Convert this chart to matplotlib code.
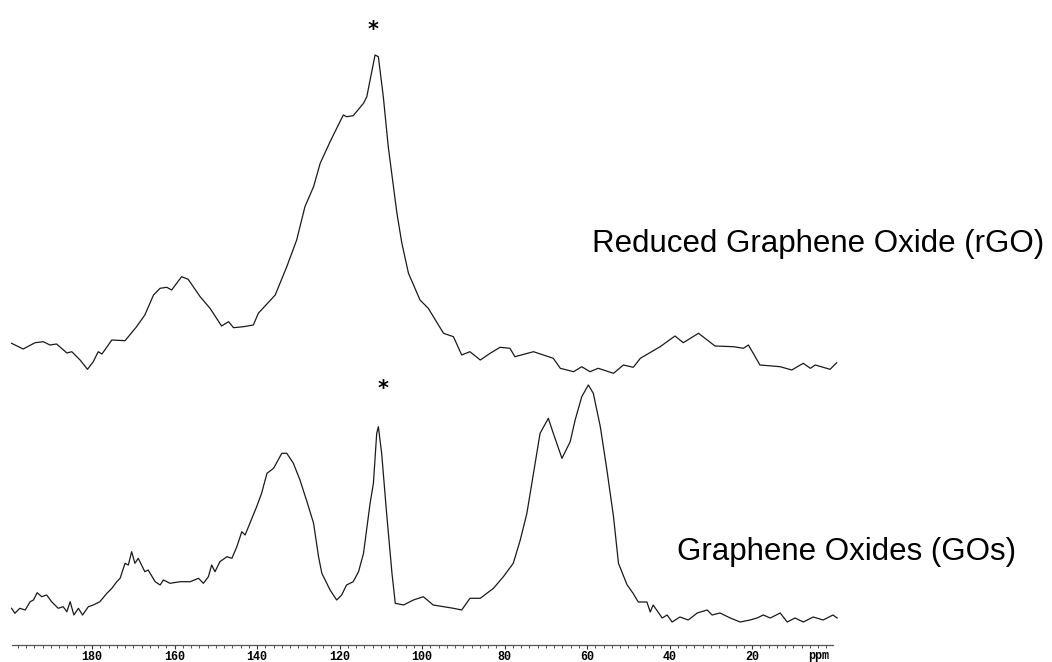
import matplotlib
matplotlib.use("Agg")
import matplotlib.pyplot as plt
import matplotlib.transforms as mtransforms
from matplotlib.ticker import MultipleLocator, FixedLocator

# chemical shift (ppm) and intensity (arbitrary units)
rgo_ppm = [199.5, 196.7, 193.8, 191.8, 190.2, 188.6, 186.1, 184.9, 182.9, 181.1,
           179.7, 178.5, 177.6, 175.2, 172.0, 169.2, 167.2, 165.1, 163.5, 161.9,
           160.7, 158.3, 156.7, 153.8, 151.4, 148.6, 146.9, 145.7, 143.3, 140.9,
           139.7, 135.6, 132.8, 130.4, 128.4, 126.3, 124.7, 122.3, 119.1, 118.3,
           116.7, 114.2, 113.4, 112.6, 111.4, 110.6, 109.4, 108.2, 106.1, 104.9,
           103.3, 100.5, 98.5, 94.8, 92.4, 90.4, 88.4, 85.9, 83.5, 81.1,
           78.7, 77.5, 73.0, 68.2, 66.5, 63.3, 61.3, 59.3, 57.3, 53.6,
           51.2, 48.8, 47.1, 42.3, 38.7, 36.7, 33.0, 29.0, 24.5, 22.1,
           20.9, 18.1, 13.2, 10.4, 7.6, 5.9, 4.7, 1.1, -0.5]
rgo_int = [16.7, 11, 17.3, 18.3, 15, 16, 7, 8.3, 0, -9.3,
           -1.7, 8.3, 6, 20, 19.3, 33.3, 45, 65, 71.7, 72.7,
           70, 83.3, 80.7, 63.3, 51.7, 34, 38.3, 32.3, 33.3, 35,
           46.7, 65, 93.3, 120, 153.3, 173.3, 196.7, 218.3, 245, 243.3,
           244.3, 256.7, 263.3, 280, 305, 303.3, 263.3, 213.3, 146.7, 116.7,
           86.7, 60, 51.7, 26.7, 23.3, 5, 8.3, 0, 6.7, 12.7,
           11.7, 3.3, 8.3, 1.7, -8.3, -11.7, -6.7, -11.7, -8.3, -13.3,
           -5, -7.3, 1.7, 13.3, 24, 17.3, 26.7, 14, 13.3, 11.7,
           15, -5, -6.7, -10, -3.3, -8.3, -5, -9.3, -2.7]

go_ppm = [199.5, 198.7, 197.5, 196.2, 195.0, 194.2, 193.3, 192.2, 191.0, 189.8,
          189.0, 188.2, 187.0, 186.1, 185.3, 184.4, 183.3, 182.3, 180.9, 179.7,
          178.1, 176.4, 175.2, 174.0, 173.2, 172.0, 171.2, 170.4, 169.6, 168.8,
          167.2, 166.4, 164.7, 163.5, 162.7, 161.1, 158.7, 156.2, 154.2, 153.0,
          151.8, 151.0, 150.2, 149.0, 147.3, 146.1, 144.9, 143.7, 142.9, 140.1,
          138.9, 137.6, 136.0, 134.0, 132.8, 131.2, 129.6, 127.9, 126.3, 125.1,
          124.3, 122.3, 120.7, 119.5, 118.3, 116.7, 115.4, 114.2, 112.6, 111.8,
          111.0, 110.6, 109.8, 108.6, 107.3, 106.5, 104.5, 102.1, 99.7, 97.3,
          94.8, 92.4, 90.4, 88.4, 85.9, 82.7, 80.3, 77.9, 76.2, 74.6,
          73.0, 71.4, 69.4, 68.2, 66.1, 64.1, 62.9, 61.3, 59.7, 58.5,
          56.8, 55.2, 53.6, 52.4, 50.3, 48.9, 47.6, 45.5, 44.7, 44.0,
          41.8, 40.6, 39.4, 37.5, 35.5, 33.3, 30.9, 29.7, 27.8, 25.3,
          22.9, 20.5, 18.8, 17.3, 15.6, 13.2, 11.5, 9.6, 7.6, 5.2,
          2.8, 0.4, -0.6]
go_int = [1.7, -3.3, 1.7, 0, 8.3, 10, 17.3, 13.3, 15, 8.3,
          5, 1.7, 3.3, -1.7, 8.3, -5, 1.7, -5, 3.3, 5,
          8.3, 16.7, 21.7, 28.3, 31.7, 46.7, 45, 58.3, 46.7, 51.7,
          38.3, 40, 28.3, 25, 30, 26.7, 28.3, 28.3, 31.7, 26.7,
          33.3, 45, 38.3, 48.3, 53.3, 51.7, 63.3, 78.3, 75, 103.3,
          116.7, 136.7, 141.7, 156.7, 156.7, 146.7, 130, 108.3, 86.7, 53.3,
          36.7, 20, 10, 15, 25, 28.3, 38.3, 56.7, 106.7, 126.7,
          176.7, 183.3, 156.7, 96.7, 36.7, 6.7, 5, 10, 13.3, 5,
          3.3, 1.7, 0, 11.7, 11.7, 21.7, 33.3, 46.7, 70, 96.7,
          136.7, 176.7, 191.7, 176.7, 151.7, 168.3, 190, 213.3, 225, 216.7,
          183.3, 140, 93.3, 46.7, 25, 17, 8, 8, -2, 5,
          -8, -5, -12, -7, -10, -3, 0, -5, -3, -8,
          -12, -10, -8, -5, -8, -3, -12, -8, -12, -7,
          -10, -5, -8]

tick_values = [180, 160, 140, 120, 100, 80, 60, 40, 20]
labels = ["Reduced Graphene Oxide (rGO)", "Graphene Oxides (GOs)"]
offsets = [285, 35]

fig = plt.figure(figsize=(10.52, 6.62), dpi=100)
ax = fig.add_axes([12 / 1052, 17 / 662, 821 / 1052, 645 / 662])

line_color = "#1a1a1a"
ax.plot(rgo_ppm, [v + offsets[0] for v in rgo_int], color=line_color, lw=0.9, clip_on=False)
ax.plot(go_ppm, [v + offsets[1] for v in go_int], color=line_color, lw=0.9, clip_on=False)

ax.set_xlim(199.4, 0.4)
ax.set_ylim(0, 645)

for side in ["top", "left", "right"]:
    ax.spines[side].set_visible(False)
ax.spines["bottom"].set_color("#555555")
ax.spines["bottom"].set_linewidth(0.9)
ax.set_yticks([])

ax.xaxis.set_major_locator(FixedLocator(tick_values))
ax.xaxis.set_minor_locator(MultipleLocator(2))
ax.tick_params(axis="x", which="major", length=3.2, width=0.8, pad=0.8,
               colors="#333333", labelcolor="black")
ax.tick_params(axis="x", which="minor", length=2.2, width=0.7, colors="#555555")
for lab in ax.get_xticklabels():
    lab.set_fontfamily("Liberation Mono")
    lab.set_fontweight("bold")
    lab.set_fontsize(8.5)

trans = mtransforms.blended_transform_factory(ax.transData, ax.transAxes)
ax.text(4.0, -0.017, "ppm", transform=trans, ha="center", va="center",
        fontfamily="Liberation Mono", fontweight="bold", fontsize=8.5)

# sample labels
ax.text(58.8, 393, labels[0], fontfamily="Liberation Sans", fontsize=22.5,
        va="baseline", ha="left")
ax.text(38.2, 85, labels[1], fontfamily="Liberation Sans", fontsize=22.5,
        va="baseline", ha="left")

# asterisks over the sharp peaks
ax.text(112.0, 615, "*", fontfamily="DejaVu Sans", fontweight="bold", fontsize=15,
        ha="center", va="center")
ax.text(109.5, 256, "*", fontfamily="DejaVu Sans", fontweight="bold", fontsize=15,
        ha="center", va="center")

fig.savefig("out.png", dpi=100)
